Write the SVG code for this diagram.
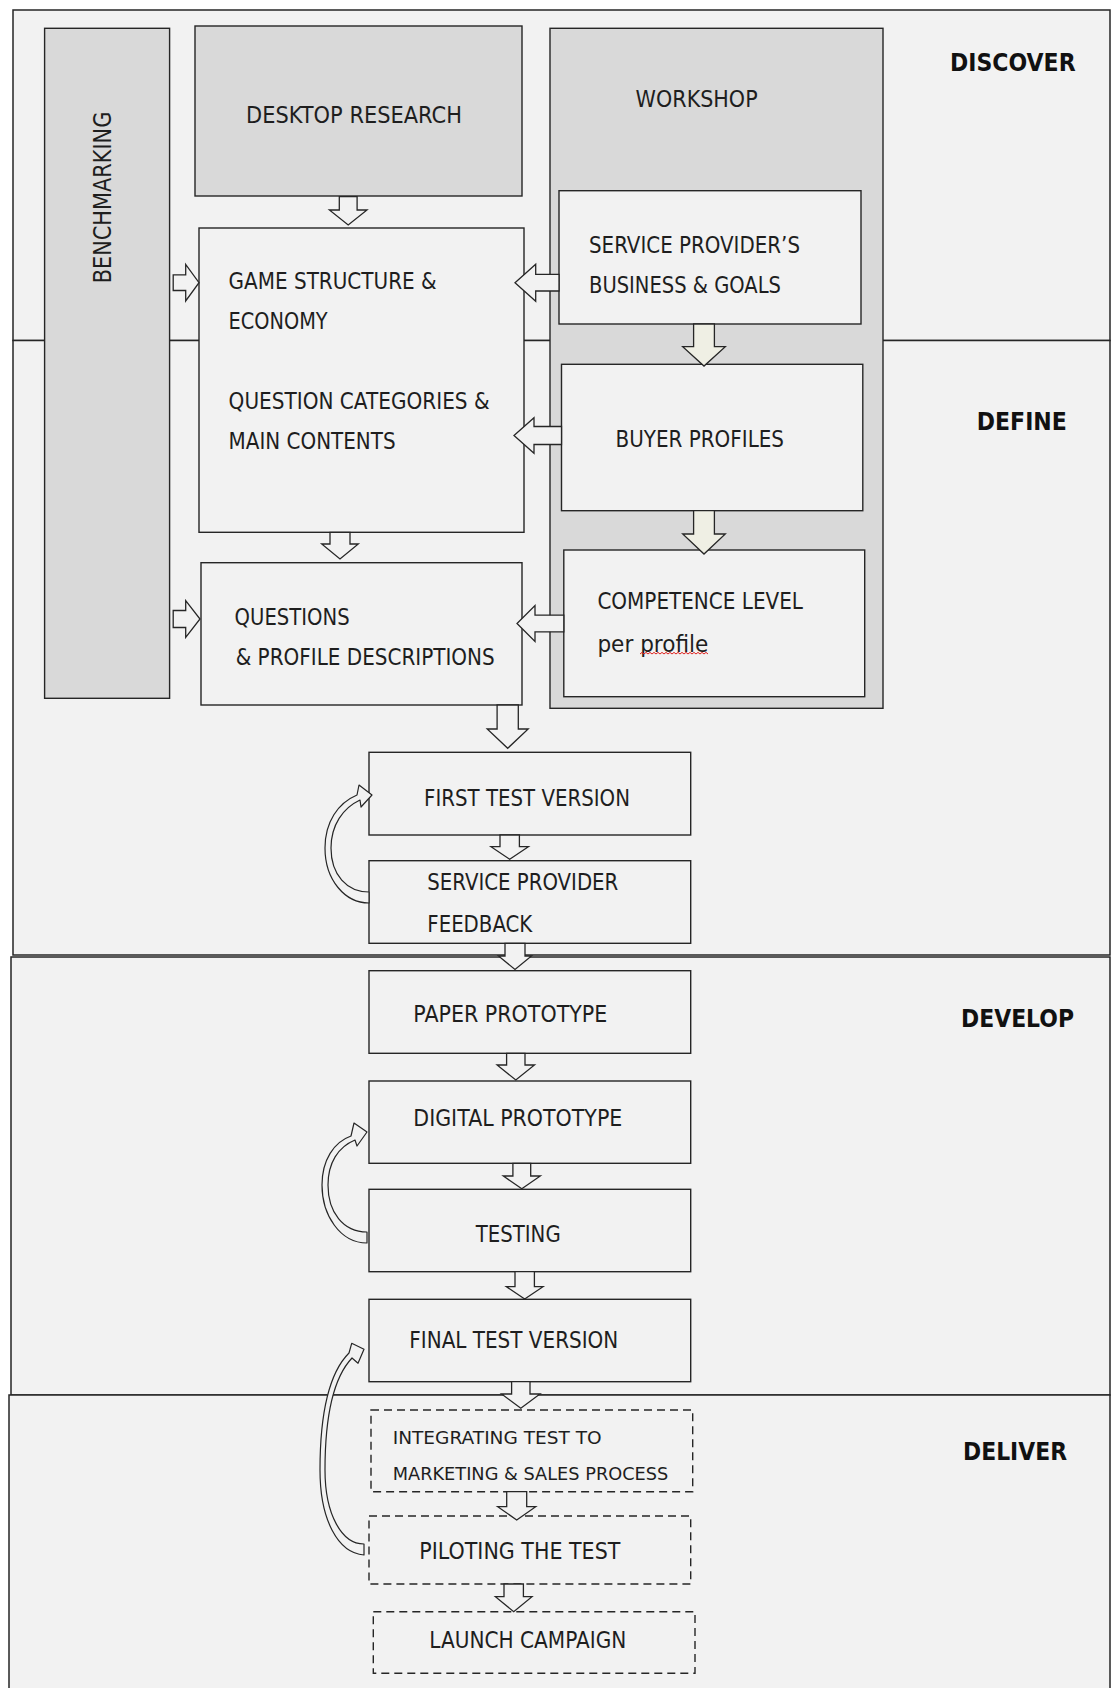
<svg xmlns="http://www.w3.org/2000/svg" width="1112" height="1688" viewBox="0 0 1112 1688">
  <style>
    .sec { fill: #f2f2f2; stroke: #262626; stroke-width: 1.5; }
    .gray { fill: #d9d9d9; stroke: #262626; stroke-width: 1.4; }
    .box { fill: #f2f2f2; stroke: #262626; stroke-width: 1.4; }
    .dash { fill: #f2f2f2; stroke: #262626; stroke-width: 1.4; stroke-dasharray: 8 5; }
    .arr { fill: #f2f2f2; stroke: #262626; stroke-width: 1.3; stroke-linejoin: miter; }
    .cream { fill: #efefe4; stroke: #262626; stroke-width: 1.3; }
    .loop { fill: #f2f2f2; stroke: #262626; stroke-width: 1.2; stroke-linejoin: round; }
    .t { font-family: "DejaVu Sans", "Liberation Sans", sans-serif; font-size: 23.5px; fill: #1e1e1e; }
    .s { font-family: "DejaVu Sans", "Liberation Sans", sans-serif; font-size: 18px; fill: #1e1e1e; }
    .h { font-family: "DejaVu Sans", "Liberation Sans", sans-serif; font-size: 24px; font-weight: bold; fill: #111; }
  </style>

  <rect width="1112" height="1688" fill="#ffffff"/>

  <!-- phase bands -->
  <g id="phases">
    <rect class="sec" x="13" y="10" width="1097" height="330.5"/>
    <rect class="sec" x="13" y="340.5" width="1097" height="614.5"/>
    <rect class="sec" x="11" y="957" width="1099" height="438"/>
    <rect class="sec" x="9" y="1395" width="1101" height="320"/>
    <text class="h" x="950" y="70.7" textLength="125.6" lengthAdjust="spacingAndGlyphs">DISCOVER</text>
    <text class="h" x="976.8" y="430" textLength="90" lengthAdjust="spacingAndGlyphs">DEFINE</text>
    <text class="h" x="961" y="1026.7" textLength="113" lengthAdjust="spacingAndGlyphs">DEVELOP</text>
    <text class="h" x="963" y="1460" textLength="104" lengthAdjust="spacingAndGlyphs">DELIVER</text>
  </g>

  <g id="benchmarking">
    <rect class="gray" x="44.6" y="28.3" width="125" height="670"/>
    <text class="t" style="font-size:25px" transform="translate(111,283.3) rotate(-90)" textLength="171.6" lengthAdjust="spacingAndGlyphs">BENCHMARKING</text>
  </g>

  <g id="desktop-research">
    <rect class="gray" x="195" y="26" width="327" height="170"/>
    <text class="t" x="246" y="123.3" textLength="216" lengthAdjust="spacingAndGlyphs">DESKTOP RESEARCH</text>
  </g>

  <g id="workshop">
    <rect class="gray" x="550" y="28.3" width="333" height="680"/>
    <text class="t" x="635.6" y="106.7" textLength="122" lengthAdjust="spacingAndGlyphs">WORKSHOP</text>
  </g>

  <g id="game-structure">
    <rect class="box" x="199" y="228" width="325" height="304.3"/>
    <text class="t" x="228.6" y="289.3" textLength="208" lengthAdjust="spacingAndGlyphs">GAME STRUCTURE &amp;</text>
    <text class="t" x="228.6" y="329.3" textLength="99" lengthAdjust="spacingAndGlyphs">ECONOMY</text>
    <text class="t" x="228.6" y="409.3" textLength="261" lengthAdjust="spacingAndGlyphs">QUESTION CATEGORIES &amp;</text>
    <text class="t" x="228.6" y="449" textLength="167" lengthAdjust="spacingAndGlyphs">MAIN CONTENTS</text>
  </g>

  <g id="questions">
    <rect class="box" x="201" y="562.7" width="321" height="142.3"/>
    <text class="t" x="234.6" y="625" textLength="115" lengthAdjust="spacingAndGlyphs">QUESTIONS</text>
    <text class="t" x="235.7" y="665" textLength="259" lengthAdjust="spacingAndGlyphs">&amp; PROFILE DESCRIPTIONS</text>
  </g>

  <g id="provider-business">
    <rect class="box" x="559" y="190.7" width="302" height="133.3"/>
    <text class="t" x="589" y="253.3" textLength="211" lengthAdjust="spacingAndGlyphs">SERVICE PROVIDER’S</text>
    <text class="t" x="589" y="293.3" textLength="192" lengthAdjust="spacingAndGlyphs">BUSINESS &amp; GOALS</text>
  </g>

  <g id="buyer-profiles">
    <rect class="box" x="561.5" y="364.3" width="301.3" height="146.4"/>
    <text class="t" x="615.5" y="446.7" textLength="168.5" lengthAdjust="spacingAndGlyphs">BUYER PROFILES</text>
  </g>

  <g id="competence-level">
    <rect class="box" x="563.8" y="550" width="300.9" height="146.7"/>
    <text class="t" x="597.4" y="609.3" textLength="205.6" lengthAdjust="spacingAndGlyphs">COMPETENCE LEVEL</text>
    <text class="t" x="597.4" y="651.7" textLength="111" lengthAdjust="spacingAndGlyphs">per profile</text>
    <!-- spell-check squiggle under "profile" -->
    <path d="M640,654 l2,-1.6 l2,1.6 l2,-1.6 l2,1.6 l2,-1.6 l2,1.6 l2,-1.6 l2,1.6 l2,-1.6 l2,1.6 l2,-1.6 l2,1.6 l2,-1.6 l2,1.6 l2,-1.6 l2,1.6 l2,-1.6 l2,1.6 l2,-1.6 l2,1.6 l2,-1.6 l2,1.6 l2,-1.6 l2,1.6 l2,-1.6 l2,1.6 l2,-1.6 l2,1.6 l2,-1.6 l2,1.6 l2,-1.6 l2,1.6 l2,-1.6 l2,1.6" fill="none" stroke="#e0201c" stroke-width="1"/>
  </g>

  <g id="first-test">
    <rect class="box" x="369" y="752.3" width="321.7" height="82.7"/>
    <text class="t" x="424" y="805.7" textLength="206" lengthAdjust="spacingAndGlyphs">FIRST TEST VERSION</text>
  </g>

  <g id="provider-feedback">
    <rect class="box" x="369" y="860.7" width="321.7" height="82.6"/>
    <text class="t" x="427.3" y="890" textLength="191" lengthAdjust="spacingAndGlyphs">SERVICE PROVIDER</text>
    <text class="t" x="427.3" y="931.7" textLength="105" lengthAdjust="spacingAndGlyphs">FEEDBACK</text>
  </g>

  <g id="paper-prototype">
    <rect class="box" x="369" y="970.7" width="321.7" height="82.6"/>
    <text class="t" x="413.3" y="1021.7" textLength="194" lengthAdjust="spacingAndGlyphs">PAPER PROTOTYPE</text>
  </g>

  <g id="digital-prototype">
    <rect class="box" x="369" y="1081" width="321.7" height="82.3"/>
    <text class="t" x="413.3" y="1126" textLength="209" lengthAdjust="spacingAndGlyphs">DIGITAL PROTOTYPE</text>
  </g>

  <g id="testing">
    <rect class="box" x="369" y="1189.3" width="321.7" height="82.4"/>
    <text class="t" x="475.7" y="1241.7" textLength="85" lengthAdjust="spacingAndGlyphs">TESTING</text>
  </g>

  <g id="final-test">
    <rect class="box" x="369" y="1299.3" width="321.7" height="82.4"/>
    <text class="t" x="409.3" y="1347.7" textLength="209" lengthAdjust="spacingAndGlyphs">FINAL TEST VERSION</text>
  </g>

  <g id="integrating">
    <rect class="dash" x="371" y="1410" width="321.7" height="81.7"/>
    <text class="s" x="392.7" y="1444" textLength="209" lengthAdjust="spacingAndGlyphs">INTEGRATING TEST TO</text>
    <text class="s" x="392.7" y="1480" textLength="275.6" lengthAdjust="spacingAndGlyphs">MARKETING &amp; SALES PROCESS</text>
  </g>

  <g id="piloting">
    <rect class="dash" x="369" y="1516" width="321.7" height="68"/>
    <text class="t" x="419.3" y="1559.3" textLength="201" lengthAdjust="spacingAndGlyphs">PILOTING THE TEST</text>
  </g>

  <g id="launch">
    <rect class="dash" x="373.3" y="1611.7" width="321.7" height="61.6"/>
    <text class="t" x="429.3" y="1647.7" textLength="197" lengthAdjust="spacingAndGlyphs">LAUNCH CAMPAIGN</text>
  </g>

  <!-- block arrows and loop-back arrows -->
  <g id="connectors">
    <path class="arr" d="M339.3,196.7 V210 H329.4 L348.2,225 L367,210 H357.1 V196.7 Z"/>
    <path class="arr" d="M330,532.3 V544 H321.7 L340,559 L358.3,544 H350 V532.3 Z"/>
    <path class="cream" d="M693.6,324 V346.7 H682.7 L704,366 L725.3,346.7 H714.4 V324 Z"/>
    <path class="cream" d="M693.6,510.7 V534 H682.7 L704,554 L725.3,534 H714.4 V510.7 Z"/>
    <path class="arr" d="M497.1,705 V729 H487.2 L507.7,748.3 L528.2,729 H518.3 V705 Z"/>
    <path class="arr" d="M500,835 V846.7 H491 L509.7,859.3 L528.4,846.7 H519.4 V835 Z"/>
    <path class="arr" d="M505,943.3 V956 H498.5 L515,969.5 L531.5,956 H525 V943.3 Z"/>
    <path class="arr" d="M506.6,1053.3 V1065 H497.1 L515.8,1080 L534.5,1065 H525 V1053.3 Z"/>
    <path class="arr" d="M512.9,1163.3 V1176 H503.3 L521.8,1188.7 L540.3,1176 H530.7 V1163.3 Z"/>
    <path class="arr" d="M515,1271.7 V1286.7 H506.4 L524.7,1299 L543,1286.7 H534.4 V1271.7 Z"/>
    <path class="arr" d="M511.6,1381.7 V1394 H501.6 L520.8,1408.3 L540,1394 H530 V1381.7 Z"/>
    <path class="arr" d="M506.7,1491.7 V1506.7 H497.7 L516.7,1520 L535.7,1506.7 H526.7 V1491.7 Z"/>
    <path class="arr" d="M504,1584 V1596.7 H495.4 L513.7,1611.7 L532,1596.7 H523.4 V1584 Z"/>

    <path class="arr" d="M173.2,274.9 H185.7 V264.4 L199,282.7 L185.7,301 V290.5 H173.2 Z"/>
    <path class="arr" d="M173.2,610.5 H185.7 V600.7 L200,619 L185.7,637.3 V627.5 H173.2 Z"/>

    <path class="arr" d="M559,274.4 H535.7 V264.2 L515,282.7 L535.7,301.2 V291 H559 Z"/>
    <path class="arr" d="M561.5,426.5 H534 V417.8 L514,435.5 L534,453.2 V444.5 H561.5 Z"/>
    <path class="arr" d="M563.8,615.2 H535 V605.5 L517,623.5 L535,641.5 V631.8 H563.8 Z"/>

    <path class="loop" d="M369,903 C345,903 325,880 325,848 C325,822 338,803 357,795 L359,785 L372,795 L361,807 L360,800 C343,808 331,825 331,848 C331,875 347,892 369,892 Z"/>
    <path class="loop" d="M367,1243 C340,1243 322,1215 322,1185 C322,1160 334,1142 351,1136 L354,1123 L367,1132 L357,1146 L355,1140 C338,1147 328,1163 328,1185 C328,1212 343,1232 367,1232 Z"/>
    <path class="loop" d="M364,1555 C338,1553 320,1520 320,1470 C320,1410 330,1372 349,1353 L351.7,1343.3 L364,1349.3 L358,1363.3 L352,1358 C334,1377 325,1412 325,1470 C325,1515 342,1544 364,1544 Z"/>
  </g>
</svg>
